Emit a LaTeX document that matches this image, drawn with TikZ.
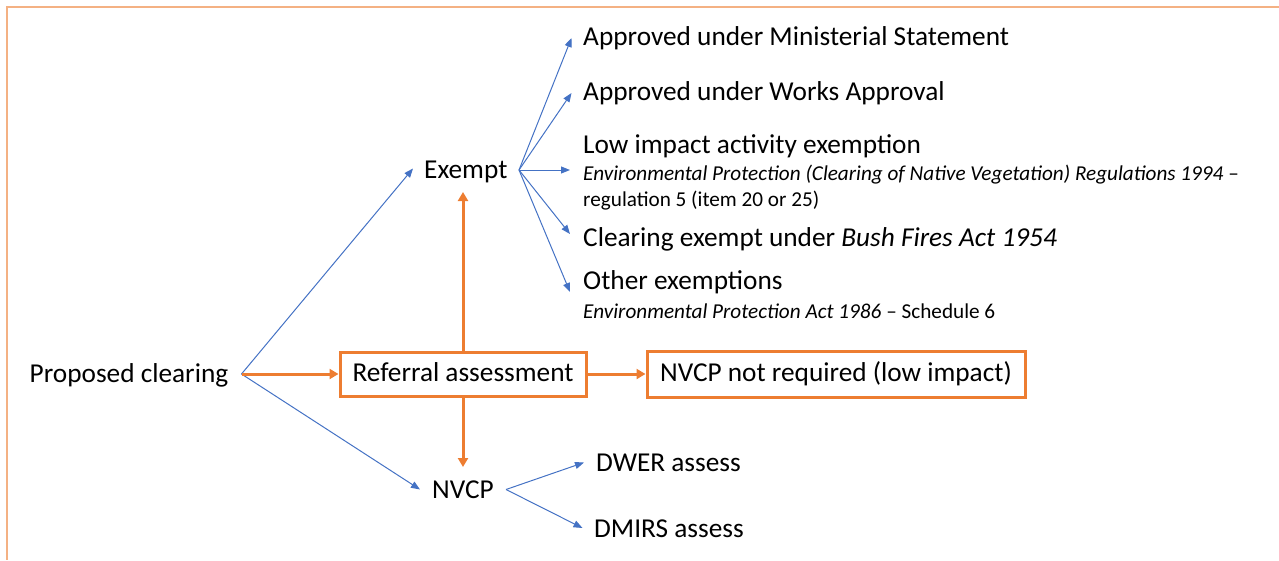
\documentclass[tikz,border=0pt]{standalone}
\usepackage{fontspec}
\setmainfont{Carlito}
\usetikzlibrary{arrows.meta}
\definecolor{bl}{HTML}{4472C4}
\definecolor{org}{HTML}{ED7D31}
\definecolor{brd}{HTML}{F4B183}
\begin{document}
\begin{tikzpicture}[x=1pt,y=-1pt,
 txt/.style={inner sep=0pt,anchor=base west,font=\fontsize{27.3}{32}\selectfont},
 sm/.style={inner sep=0pt,anchor=base west,font=\fontsize{21.2}{25}\selectfont},
 bx/.style={draw=org,line width=3pt,inner sep=0pt,text height=19pt,text depth=5pt,font=\fontsize{27.3}{32}\selectfont},
 barrow/.style={draw=bl,line width=1pt,-{Triangle[length=9pt,width=7pt]}},
 oarrow/.style={draw=org,line width=3pt,-{Triangle[length=9pt,width=10pt]}},
 border/.style={draw=brd,line width=2pt}
]
\useasboundingbox (0,0) rectangle (1279,560);
\coordinate (bTL) at (6.5,6.5);
\coordinate (bTR) at (1279,6.5);
\coordinate (bBL) at (6.5,560);
\draw[border] (bTR) -- (bTL) -- (bBL);

% main nodes
\node[txt] (prop) at (29.5,382) {Proposed clearing};
\coordinate (pc) at (241.5,374);
\node[txt] (exempt) at (424,178) {Exempt};
\coordinate (exT) at (413,168.5);
\coordinate (exS) at (463,192);
\coordinate (ex) at (519,170);
\node[bx,minimum width=246pt,minimum height=44pt] (ra) at (463,374) {Referral assessment};
\node[bx,minimum width=378pt,minimum height=46pt] (nr) at (836,374) {NVCP not required (low impact)};
\node[txt] (nvcp) at (432,498) {NVCP};
\coordinate (nvT) at (420,489.5);
\coordinate (nvS) at (463,467);
\coordinate (nv) at (506,489.5);
\node[txt] (dwer) at (596,471) {DWER assess};
\node[txt] (dmirs) at (594,537) {DMIRS assess};
\coordinate (dwerT) at (584,462.5);
\coordinate (dmirsT) at (582.5,528);

% exempt outcomes
\node[txt] (minis) at (583,45) {Approved under Ministerial Statement};
\node[txt] (works) at (583,100) {Approved under Works Approval};
\node[txt] (low) at (583,153) {Low impact activity exemption};
\node[sm] (env) at (583,180) {\textit{Environmental Protection (Clearing of Native Vegetation) Regulations 1994} –};
\node[sm] (reg) at (583,206) {regulation 5 (item 20 or 25)};
\node[txt] (bush) at (583,246) {Clearing exempt under \textit{Bush Fires Act 1954}};
\node[txt] (other) at (583,289) {Other exemptions};
\node[sm] (envact) at (583,318) {\textit{Environmental Protection Act 1986} – Schedule 6};
\coordinate (minisT) at (571.5,38);
\coordinate (worksT) at (571.5,93);
\coordinate (lowT) at (570,170);
\coordinate (bushT) at (570,234);
\coordinate (otherT) at (570,292);

% blue connectors
\draw[barrow] (pc) -- (exT);
\draw[barrow] (pc) -- (nvT);
\draw[barrow] (ex) -- (minisT);
\draw[barrow] (ex) -- (worksT);
\draw[barrow] (ex) -- (lowT);
\draw[barrow] (ex) -- (bushT);
\draw[barrow] (ex) -- (otherT);
\draw[barrow] (nv) -- (dwerT);
\draw[barrow] (nv) -- (dmirsT);

% orange connectors
\draw[oarrow] (pc) -- (ra.west);
\draw[oarrow] (ra.east) -- (nr.west);
\draw[oarrow] (ra.north) -- (exS);
\draw[oarrow] (ra.south) -- (nvS);
\end{tikzpicture}
\end{document}
